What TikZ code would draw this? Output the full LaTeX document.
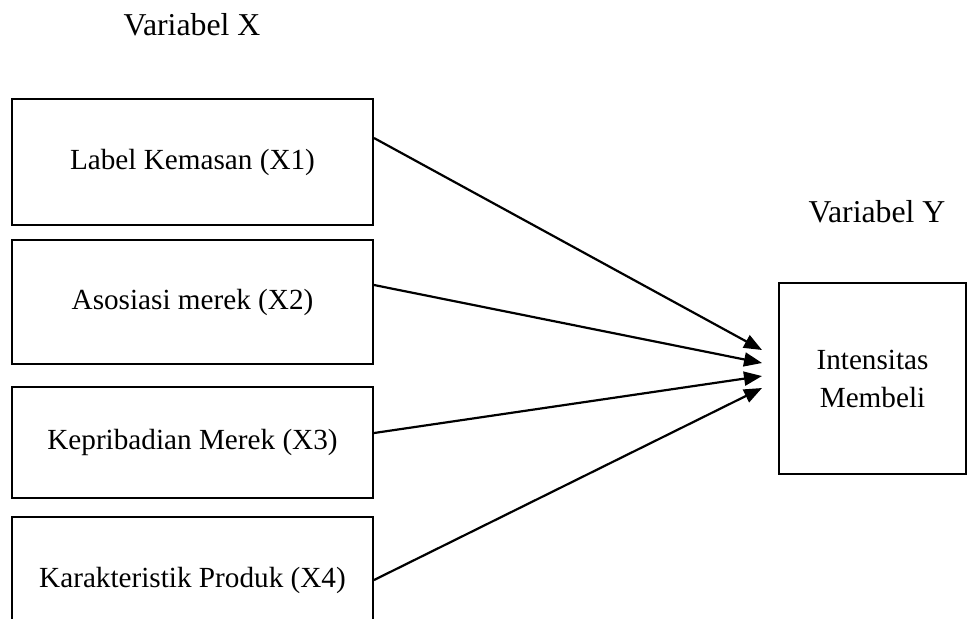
\documentclass[tikz,border=0pt]{standalone}
\usepackage{fontspec}
\setmainfont{Liberation Serif}
\usetikzlibrary{arrows.meta}
\usetikzlibrary{calc}

\begin{document}
\begin{tikzpicture}[
            x=0.5pt, y=-0.5pt,
            font=\fontsize{14.6}{19}\selectfont,
            caja/.style={draw, line width=1pt, minimum width=180.5pt, inner sep=0pt, align=center},
            titulo/.style={font=\fontsize{15.9}{19}\selectfont},
            flecha/.style={-{Triangle[length=9pt, width=7pt]}, line width=1.1pt},
        ]
            \useasboundingbox (0,0) rectangle (967,618);
            \clip (0,0) rectangle (967,618);

            % --- Titulos de las variables ---
            \node[titulo] (varx) at (192,25) {Variabel X};
            \node[titulo] (vary) at (877,212) {Variabel Y};

            % --- Cajas de la variable X ---
            \node[caja, minimum height=63pt] (b1) at (192.5,162) {Label Kemasan (X1)};
            \node[caja, minimum height=62pt] (b2) at (192.5,302) {Asosiasi merek (X2)};
            \node[caja, minimum height=55.5pt] (b3) at (192.5,442.5) {Kepribadian Merek (X3)};
            \node[caja, minimum height=63pt] (b4) at (192.5,580) {Karakteristik Produk (X4)};

            % --- Caja de la variable Y ---
            \node[caja, minimum width=93.5pt, minimum height=95.5pt] (by) at (872.5,378.5) {Intensitas\\Membeli};

            % --- Puntas de las flechas ---
            \coordinate (t1) at (762,350);
            \coordinate (t2) at (762,363);
            \coordinate (t3) at (762,376);
            \coordinate (t4) at (762,388);

            % --- Flechas X -> Y ---
            \foreach \i/\s in {1/12pt, 2/8.5pt, 3/4.75pt, 4/0pt} {
                \draw[flecha] ([yshift=\s]b\i.east) -- (t\i);
            }
        \end{tikzpicture}
\end{document}
